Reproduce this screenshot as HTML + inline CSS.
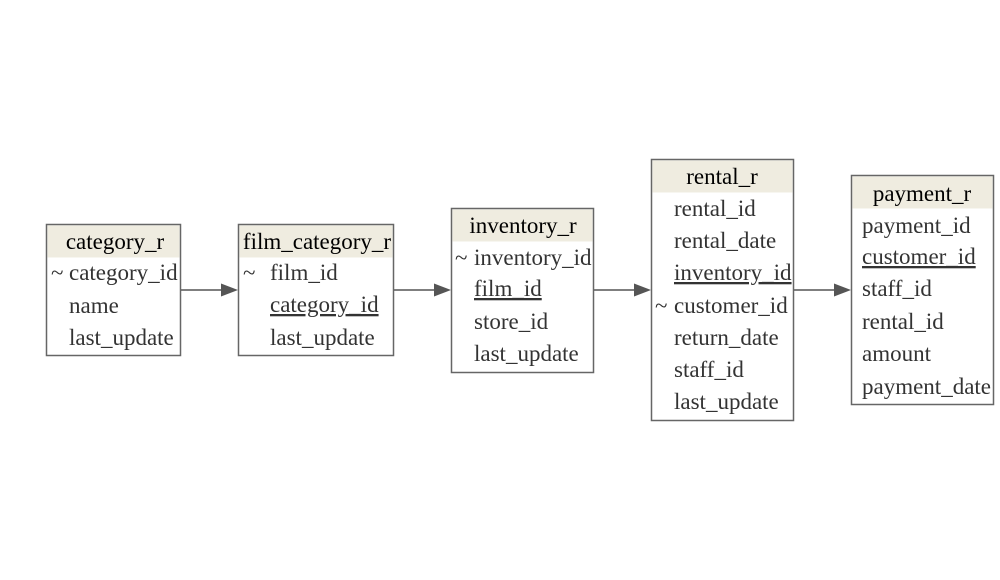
<!DOCTYPE html>
<html><head><meta charset="utf-8"><style>
html,body{margin:0;padding:0;background:#fff;width:1000px;height:580px;overflow:hidden}
svg{display:block}
text{font-family:"Liberation Serif",serif;font-size:23px;fill:#333}
.h{fill:#000}
</style></head><body>
<svg width="1000" height="580" viewBox="0 0 1000 580">
<g stroke="#555" stroke-width="1.5" fill="none">
<line x1="180" y1="290" x2="222" y2="290"/>
<line x1="393" y1="290" x2="435" y2="290"/>
<line x1="594" y1="290" x2="635" y2="290"/>
<line x1="793" y1="290" x2="835" y2="290"/>
</g>
<g fill="#555">
<polygon points="238,290 221,283.5 221,296.5"/>
<polygon points="451,290 434,283.5 434,296.5"/>
<polygon points="651,290 634,283.5 634,296.5"/>
<polygon points="851,290 834,283.5 834,296.5"/>
</g>
<!-- category -->
<rect x="46.5" y="224.5" width="134" height="131" fill="#fff" stroke="#666" stroke-width="1.5"/>
<rect x="47.5" y="225.5" width="132" height="32" fill="#efece0"/>
<text class="h" x="115" y="249" text-anchor="middle">category_r</text>
<text x="51" y="280">~</text>
<text x="69" y="280">category_id</text>
<text x="69" y="313">name</text>
<text x="69" y="345">last_update</text>
<!-- film_category -->
<rect x="238.5" y="224.5" width="155" height="131" fill="#fff" stroke="#666" stroke-width="1.5"/>
<rect x="239.5" y="225.5" width="153" height="32" fill="#efece0"/>
<text class="h" x="317" y="249" text-anchor="middle">film_category_r</text>
<text x="243" y="280">~</text>
<text x="270" y="280">film_id</text>
<text x="270" y="312" text-decoration="underline">category_id</text>
<text x="270" y="345">last_update</text>
<!-- inventory -->
<rect x="451.5" y="208.5" width="142" height="164" fill="#fff" stroke="#666" stroke-width="1.5"/>
<rect x="452.5" y="209.5" width="140" height="32" fill="#efece0"/>
<text class="h" x="523" y="233" text-anchor="middle">inventory_r</text>
<text x="455" y="265">~</text>
<text x="474" y="265">inventory_id</text>
<text x="474" y="296" text-decoration="underline">film_id</text>
<text x="474" y="329">store_id</text>
<text x="474" y="361">last_update</text>
<!-- rental -->
<rect x="651.5" y="159.5" width="142" height="261" fill="#fff" stroke="#666" stroke-width="1.5"/>
<rect x="652.5" y="160.5" width="140" height="32" fill="#efece0"/>
<text class="h" x="722" y="184" text-anchor="middle">rental_r</text>
<text x="674" y="216">rental_id</text>
<text x="674" y="248">rental_date</text>
<text x="674" y="280" text-decoration="underline">inventory_id</text>
<text x="655" y="313">~</text>
<text x="674" y="313">customer_id</text>
<text x="674" y="345">return_date</text>
<text x="674" y="377">staff_id</text>
<text x="674" y="409">last_update</text>
<!-- payment -->
<rect x="851.5" y="175.5" width="142" height="229" fill="#fff" stroke="#666" stroke-width="1.5"/>
<rect x="852.5" y="176.5" width="140" height="32" fill="#efece0"/>
<text class="h" x="922" y="201" text-anchor="middle">payment_r</text>
<text x="862" y="233">payment_id</text>
<text x="862" y="264" text-decoration="underline">customer_id</text>
<text x="862" y="296">staff_id</text>
<text x="862" y="329">rental_id</text>
<text x="862" y="361">amount</text>
<text x="862" y="394">payment_date</text>
</svg>
</body></html>
